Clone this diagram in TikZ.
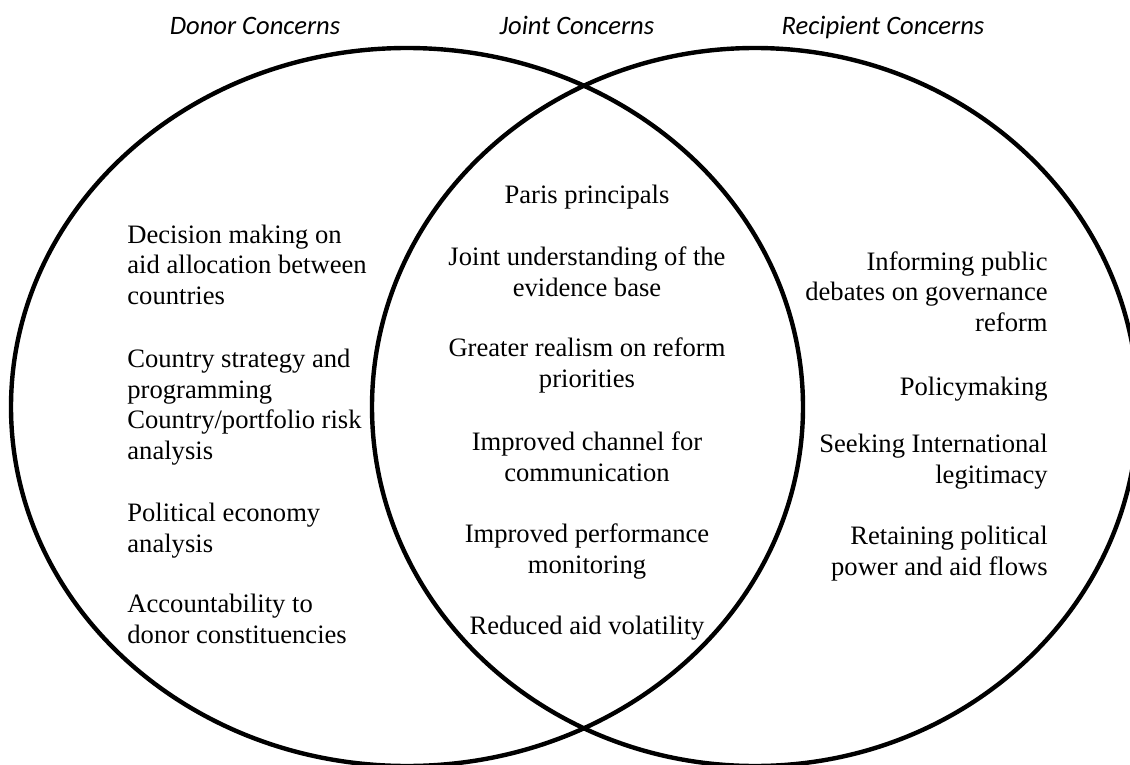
\documentclass[tikz,border=0pt]{standalone}
\usepackage{fontspec}
\setmainfont{Liberation Serif}
\newfontfamily\headfont{Carlito}
\usetikzlibrary{positioning}

\begin{document}
\begin{tikzpicture}[x=0.5pt,y=-0.5pt,
    ring/.style={line width=2.2pt},
    head/.style={inner sep=0pt, font=\headfont\itshape\fontsize{13.3}{15.25}\selectfont},
    item/.style={inner sep=0pt, font=\fontsize{13.3}{15.25}\selectfont}]
    \useasboundingbox (0,0) rectangle (1130,765);

    % the two circles
    \draw[ring] (407,407) ellipse [x radius=198pt, y radius=179.5pt];
    \draw[ring] (755,407) ellipse [x radius=191.5pt, y radius=179.5pt];

    % headings
    \node[head, anchor=base] (donor) at (255,35) {Donor Concerns};
    \node[head, anchor=base] (joint) at (577,35) {Joint Concerns};
    \node[head, anchor=base] (recip) at (883,35) {Recipient Concerns};

    % donor side (base = last line)
    \node[item, anchor=base west, align=left] (d1) at (127,304) {Decision making on\\aid allocation between\\countries};
    \node[item, anchor=base west, align=left] (d2) at (127,459) {Country strategy and\\programming\\Country/portfolio risk\\analysis};
    \node[item, anchor=base west, align=left] (d3) at (127,552) {Political economy\\analysis};
    \node[item, anchor=base west, align=left] (d4) at (127,643) {Accountability to\\donor constituencies};

    % joint
    \node[item, anchor=base] (j1) at (587,203) {Paris principals};
    \node[item, anchor=base, align=center] (j2) at (587,296) {Joint understanding of the\\evidence base};
    \node[item, anchor=base, align=center] (j3) at (587,387) {Greater realism on reform\\priorities};
    \node[item, anchor=base, align=center] (j4) at (587,481) {Improved channel for\\communication};
    \node[item, anchor=base, align=center] (j5) at (587,573) {Improved performance\\monitoring};
    \node[item, anchor=base] (j6) at (587,634) {Reduced aid volatility};

    % recipient side
    \node[item, anchor=base east, align=right] (r1) at (1048,331) {Informing public\\debates on governance\\reform};
    \node[item, anchor=base east] (r2) at (1048,395) {Policymaking};
    \node[item, anchor=base east, align=right] (r3) at (1048,483) {Seeking International\\legitimacy};
    \node[item, anchor=base east, align=right] (r4) at (1048,575) {Retaining political\\power and aid flows};
\end{tikzpicture}
\end{document}
